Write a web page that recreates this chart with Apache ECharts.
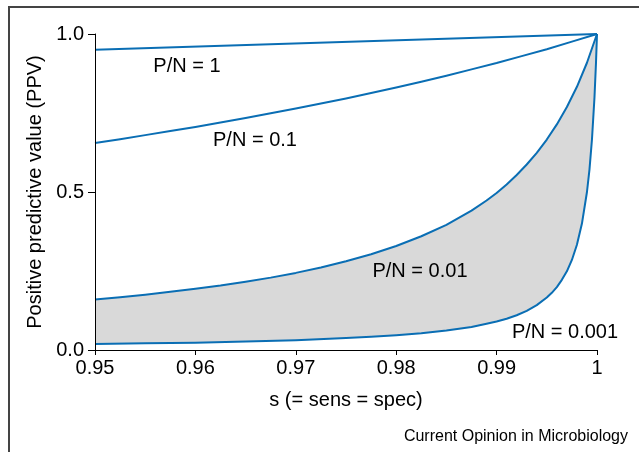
<!DOCTYPE html>
<html>
<head>
<meta charset="utf-8">
<script src="https://cdn.jsdelivr.net/npm/echarts@6/dist/echarts.min.js"></script>
<style>html,body{margin:0;padding:0;background:#fff}#c{width:639px;height:452px}</style>
</head>
<body>
<div id="c"></div>
<script>
// s values and PPV readings for each P/N curve
var sPN1 = [0.95, 1];
var ppvPN1 = [0.95, 1];

var sPN01 = [0.95, 0.9525, 0.955, 0.9575, 0.96, 0.9625, 0.965, 0.9675, 0.97, 0.9725, 0.975, 0.9775, 0.98, 0.9825, 0.985, 0.9875, 0.99, 0.9925, 0.995, 0.9975, 1];
var ppvPN01 = [0.655, 0.667, 0.680, 0.693, 0.706, 0.720, 0.734, 0.749, 0.764, 0.780, 0.796, 0.813, 0.831, 0.849, 0.868, 0.888, 0.908, 0.930, 0.952, 0.976, 1];

var sPN001 = [0.95, 0.9525, 0.955, 0.9575, 0.96, 0.9625, 0.965, 0.9675, 0.97, 0.9725, 0.975, 0.9775, 0.98, 0.9825, 0.985, 0.9875, 0.989, 0.99, 0.991, 0.992, 0.993, 0.994, 0.995, 0.996, 0.997, 0.998, 0.999, 1];
var ppvPN001 = [0.160, 0.167, 0.175, 0.184, 0.194, 0.204, 0.216, 0.229, 0.244, 0.261, 0.281, 0.303, 0.329, 0.360, 0.396, 0.441, 0.473, 0.497, 0.524, 0.554, 0.587, 0.624, 0.666, 0.714, 0.769, 0.833, 0.909, 1];

var sPN0001 = [0.95, 0.955, 0.96, 0.965, 0.97, 0.975, 0.9775, 0.98, 0.9825, 0.985, 0.9875, 0.989, 0.99, 0.991, 0.992, 0.993, 0.994, 0.995, 0.9955, 0.996, 0.9965, 0.997, 0.9975, 0.998, 0.9985, 0.999, 0.99925, 0.9995, 0.99975, 0.9999, 1];
var ppvPN0001 = [0.019, 0.021, 0.023, 0.027, 0.031, 0.038, 0.042, 0.047, 0.053, 0.062, 0.073, 0.083, 0.090, 0.099, 0.110, 0.124, 0.142, 0.166, 0.181, 0.199, 0.222, 0.249, 0.285, 0.333, 0.400, 0.500, 0.571, 0.667, 0.800, 0.909, 1];

var curveLabels = ['P/N = 1', 'P/N = 0.1', 'P/N = 0.01', 'P/N = 0.001'];
var xTicks = [0.95, 0.96, 0.97, 0.98, 0.99, 1];
var yTicks = [0.0, 0.5, 1.0];

function zip(a, b) { return a.map(function (v, i) { return [v, b[i]]; }); }

var FONT = '"Liberation Sans", Arial, sans-serif';
var BLUE = '#0a6eb4';

var chart = echarts.init(document.getElementById('c'), null, {renderer: 'canvas'});
var lineBase = {
  type: 'line', showSymbol: false, symbol: 'none', smooth: false,
  lineStyle: {color: BLUE, width: 2, join: 'round'}, animation: false
};
function txt(x, y, s, size, align) {
  return {type: 'text', x: x, y: y, z: 100,
    style: {text: s, font: size + 'px ' + FONT, fill: '#000', textAlign: align || 'center', textVerticalAlign: 'middle'}};
}
chart.setOption({
  animation: false,
  grid: {left: 95, right: 42, top: 34, bottom: 102},
  xAxis: {
    type: 'value', min: 0.95, max: 1, interval: 0.01, z: 5,
    name: 's (= sens = spec)', nameLocation: 'middle', nameGap: 40,
    nameTextStyle: {fontFamily: FONT, fontSize: 20, color: '#000'},
    axisLine: {lineStyle: {color: '#000', width: 1}},
    axisTick: {length: 5, lineStyle: {color: '#000'}},
    axisLabel: {fontFamily: FONT, fontSize: 20, color: '#000', margin: 8,
      formatter: function (v) { return xTicks.indexOf(+v.toFixed(2)) >= 0 ? String(+v.toFixed(2)) : ''; }},
    splitLine: {show: false}
  },
  yAxis: {
    type: 'value', min: 0, max: 1, interval: 0.5, z: 5,
    name: 'Positive predictive value (PPV)', nameLocation: 'middle', nameGap: 49,
    nameTextStyle: {fontFamily: FONT, fontSize: 20, color: '#000'},
    axisLine: {show: true, lineStyle: {color: '#000', width: 1}},
    axisTick: {show: true, length: 7, lineStyle: {color: '#000'}},
    axisLabel: {fontFamily: FONT, fontSize: 20, color: '#000', margin: 11,
      formatter: function (v) { return yTicks[Math.round(v * 2)].toFixed(1); }},
    splitLine: {show: false}
  },
  series: [
    Object.assign({}, lineBase, {name: curveLabels[2], data: zip(sPN001, ppvPN001),
      areaStyle: {color: '#d9d9d9', opacity: 1}, z: 2}),
    Object.assign({}, lineBase, {name: curveLabels[3], data: zip(sPN0001, ppvPN0001),
      areaStyle: {color: '#ffffff', opacity: 1}, z: 3}),
    Object.assign({}, lineBase, {name: curveLabels[1], data: zip(sPN01, ppvPN01), z: 4}),
    Object.assign({}, lineBase, {name: curveLabels[0], data: zip(sPN1, ppvPN1), z: 4})
  ],
  graphic: [
    {type: 'polyline', z: 100, shape: {points: [[9, 452], [9, 7], [639, 7]]},
      style: {stroke: '#444', lineWidth: 2, fill: null}},
    txt(187, 66, curveLabels[0], 20),
    txt(255, 140, curveLabels[1], 20),
    txt(420, 271, curveLabels[2], 20),
    txt(565, 332, curveLabels[3], 20),
    txt(628, 437, 'Current Opinion in Microbiology', 16, 'right')
  ]
});
</script>
</body>
</html>
